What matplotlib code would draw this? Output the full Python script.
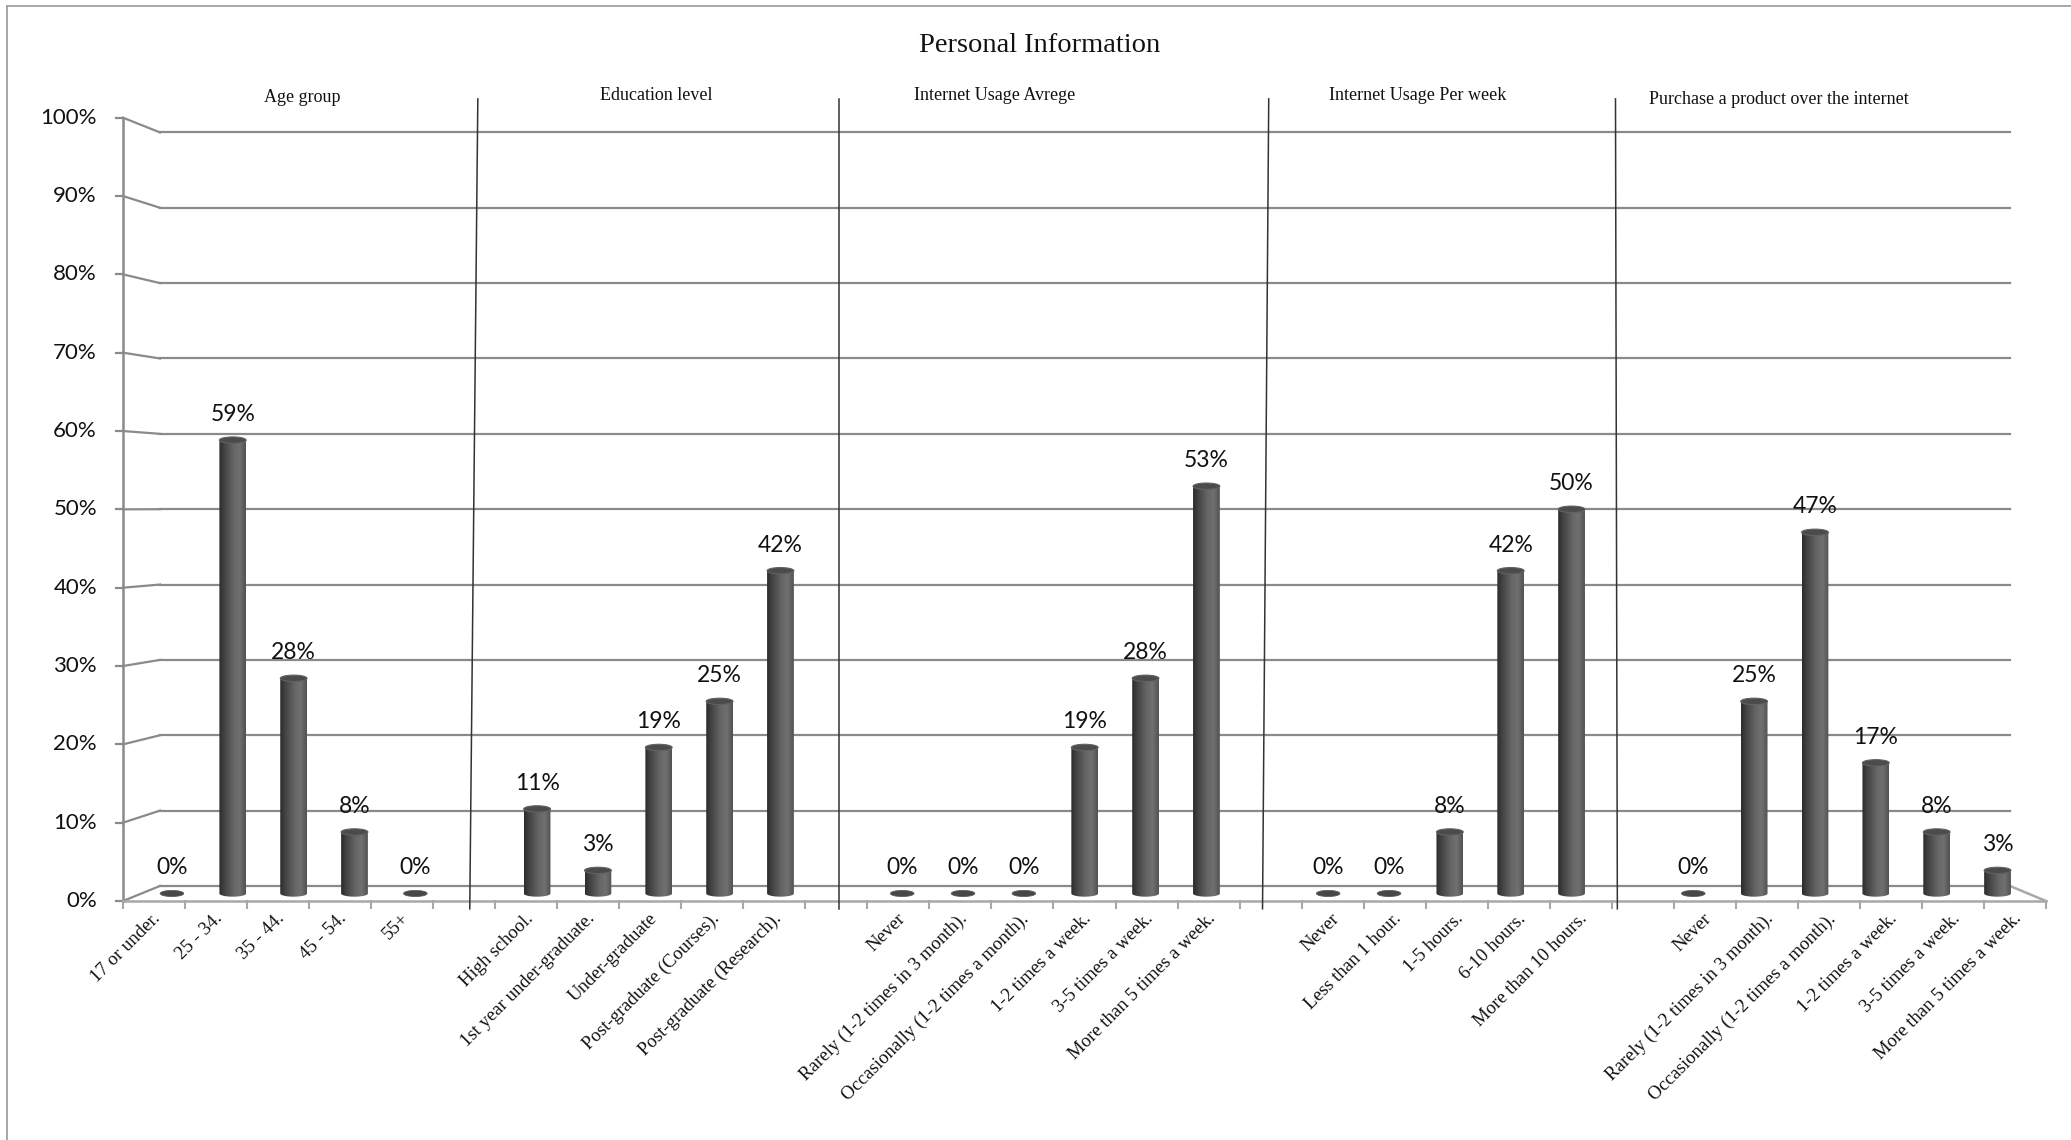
import numpy as np
import matplotlib
matplotlib.use('Agg')
import matplotlib.pyplot as plt
from matplotlib.patches import Ellipse, PathPatch
from matplotlib.path import Path
from matplotlib.colors import LinearSegmentedColormap
from matplotlib.lines import Line2D

# -- survey results (percent of respondents) --
age_labels = ['17 or under.', '25 - 34.', '35 - 44.', '45 - 54.', '55+']
age_values = [0, 59, 28, 8, 0]

edu_labels = ['High school.', '1st year under-graduate.', 'Under-graduate',
              'Post-graduate (Courses).', 'Post-graduate (Research).']
edu_values = [11, 3, 19, 25, 42]

avg_labels = ['Never', 'Rarely (1-2 times in 3 month).', 'Occasionally (1-2 times a month).',
              '1-2 times a week.', '3-5 times a week.', 'More than 5 times a week.']
avg_values = [0, 0, 0, 19, 28, 53]

week_labels = ['Never', 'Less than 1 hour.', '1-5 hours.', '6-10 hours.', 'More than 10 hours.']
week_values = [0, 0, 8, 42, 50]

buy_labels = ['Never', 'Rarely (1-2 times in 3 month).', 'Occasionally (1-2 times a month).',
              '1-2 times a week.', '3-5 times a week.', 'More than 5 times a week.']
buy_values = [0, 25, 47, 17, 8, 3]

group_titles = ['Age group', 'Education level', 'Internet Usage Avrege',
                'Internet Usage Per week', 'Purchase a product over the internet']
y_ticks = list(range(0, 101, 10))

groups = [(age_labels, age_values), (edu_labels, edu_values), (avg_labels, avg_values),
          (week_labels, week_values), (buy_labels, buy_values)]

# one empty slot between the groups
cats, vals, pos = [], [], []
slot = 0
for labels, values in groups:
    for lab, v in zip(labels, values):
        cats.append(lab)
        vals.append(v)
        pos.append(slot + 0.5)
        slot += 1
    slot += 1
n_slots = slot - 1

W, H = 2071, 1140
fig = plt.figure(figsize=(W / 100, H / 100), dpi=100)
fig.patch.set_facecolor('white')

# front face of the 3d box, in pixels
x0, x1 = 123, 2046
y_top, y_bot = 117.7, 901
ax = fig.add_axes([x0 / W, 1 - y_bot / H, (x1 - x0) / W, (y_bot - y_top) / H])
ax.set_xlim(0, n_slots)
ax.set_ylim(0, 100)
ax.axis('off')

# perspective: back wall shrinks towards a vanishing centre
SHRINK = 0.038
CX, CY = 15.70, 50.55


def proj(x, y, d):
    s = 1 - SHRINK * np.asarray(d, float)
    return CX + s * (np.asarray(x, float) - CX), CY + s * (np.asarray(y, float) - CY)


grid_c = '#8a8a8a'
floor_c = '#a8a8a8'
px_y = 100 / (y_bot - y_top)      # data units per pixel, vertical

# back wall gridlines + left side wall
for v in y_ticks:
    bx, by = proj([0, n_slots], [v, v], 1)
    ax.add_line(Line2D(bx, by, color=grid_c, lw=1.6, zorder=1, clip_on=False))
    sx, sy = proj([0, 0], [v, v], [0, 1])
    ax.add_line(Line2D(sx, sy, color=grid_c, lw=1.6, zorder=1, clip_on=False))
    ax.add_line(Line2D([-0.12, 0], [v, v], color=grid_c, lw=1.6, zorder=1, clip_on=False))
    ax.text(-0.42, v, f'{v}%', ha='right', va='center', fontsize=16,
            family='Lato', color='#111111')

# front axis and floor
ax.add_line(Line2D([0, 0], [0, 100], color=grid_c, lw=1.8, zorder=2, clip_on=False))
ax.add_line(Line2D([0, n_slots], [0, 0], color=floor_c, lw=1.8, zorder=2, clip_on=False))
rx, ry = proj([n_slots, n_slots], [0, 0], [0, 1])
ax.add_line(Line2D(rx, ry, color=floor_c, lw=1.8, zorder=2, clip_on=False))
for i in range(n_slots + 1):
    ax.add_line(Line2D([i, i], [0, -0.9], color=floor_c, lw=1.5, zorder=2, clip_on=False))

# cylinder bars
cyl = LinearSegmentedColormap.from_list('cyl', [(0, '#2c2c2c'), (0.2, '#444444'),
                                                (0.55, '#666666'), (0.78, '#707070'),
                                                (1.0, '#525252')])
grad = np.linspace(0, 1, 80).reshape(1, -1)
half_w = 0.22
ell_h = 3.2 * px_y

for p, v in zip(pos, vals):
    s = 1 - SHRINK * 0.5
    hw = half_w * s
    xc, yb = proj(p, 0, 0.5)
    _, yt = proj(p, v, 0.5)
    if v == 0:
        ax.add_patch(Ellipse((xc, yb), 2 * hw * 0.88, 2 * ell_h * 0.95, fc='#474747',
                             ec='#5a5a5a', lw=0.6, zorder=3))
    else:
        t = np.linspace(0, -np.pi, 40)
        verts = np.vstack([[xc - hw, yt], [xc + hw, yt],
                           np.column_stack([xc + hw * np.cos(t), yb + ell_h * np.sin(t)]),
                           [xc - hw, yt]])
        clip = PathPatch(Path(verts), transform=ax.transData)
        im = ax.imshow(grad, extent=[xc - hw, xc + hw, yb - ell_h, yt], cmap=cyl,
                       aspect='auto', interpolation='bilinear', zorder=3)
        im.set_clip_path(clip)
        ax.add_patch(Ellipse((xc, yt), 2 * hw, 2 * ell_h, fc='#4b4b4b', ec='#626262',
                             lw=0.8, zorder=4))
    ax.annotate(f'{v}%', xy=(xc, yt), xytext=(0, 19), textcoords='offset pixels',
                ha='center', va='baseline', fontsize=16.5, family='Lato', color='#111111',
                zorder=5)

# category labels
for p, lab in zip(pos, cats):
    ax.annotate(lab, xy=(p - 0.03, 0), xytext=(0, -9), textcoords='offset pixels',
                rotation=45, rotation_mode='anchor', ha='right', va='top',
                fontsize=13.5, family='Liberation Serif', color='#111111')

ax.set_xlim(0, n_slots)
ax.set_ylim(0, 100)

# group dividers
dividers = [(5.72, 5.59), (11.55, 11.55), (18.47, 18.37), (24.06, 24.09)]
for xt, xb in dividers:
    ax.add_line(Line2D([xt, xb], [102.4, -1.0], color='#333333', lw=1.1, zorder=2,
                       clip_on=False))

# titles
fig.text(1040 / W, 1 - 46 / H, 'Personal Information', ha='center', va='center',
         fontsize=20.5, family='Liberation Serif', color='#111111')
title_xy = [(302, 97), (656, 95), (995, 95.5), (1418, 95.5), (1779, 99)]
for (tx, ty), name in zip(title_xy, group_titles):
    fig.text(tx / W, 1 - ty / H, name, ha='center', va='center', fontsize=13,
             family='Liberation Serif', color='#111111')

# chart border
fig.add_artist(Line2D([7 / W, 7 / W], [0, 1 - 5.5 / H], color='#a0a0a0', lw=1.3))
fig.add_artist(Line2D([7 / W, 1], [1 - 5.5 / H, 1 - 5.5 / H], color='#a0a0a0', lw=1.3))

fig.savefig('out.png', dpi=100, facecolor='white')
